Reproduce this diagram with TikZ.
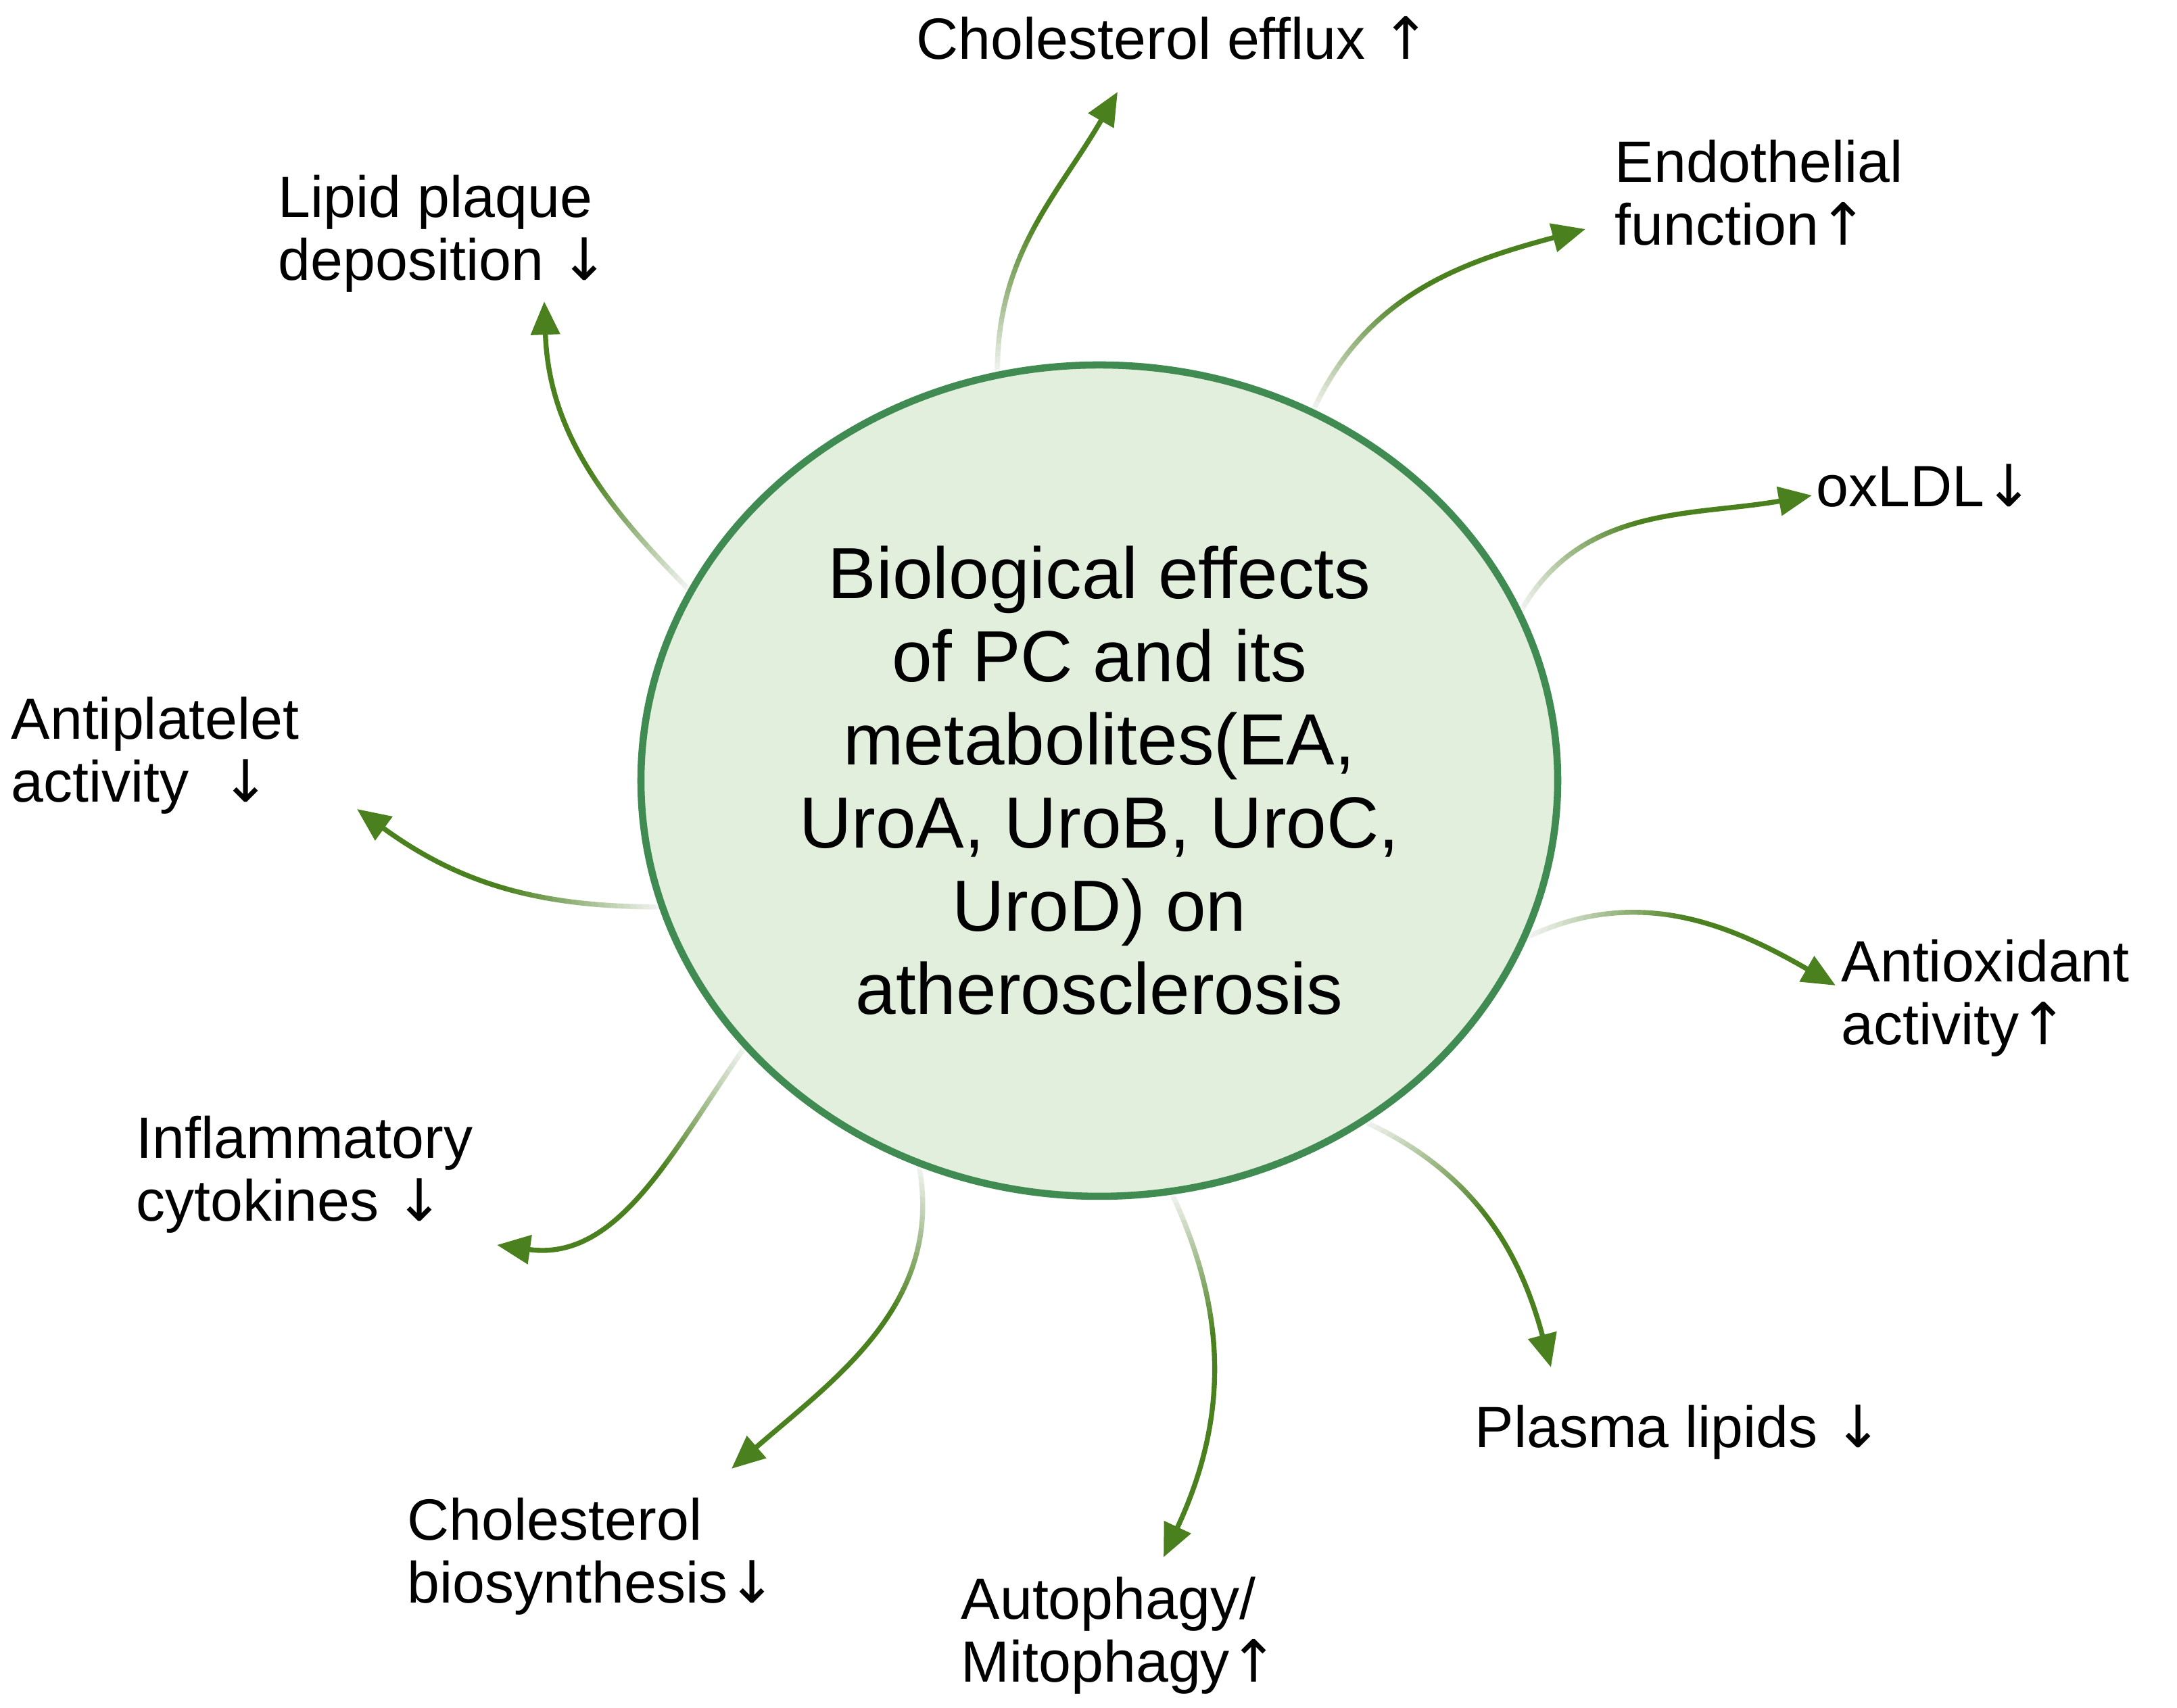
\documentclass[tikz,border=0pt]{standalone}
\usepackage{fontspec}
\setmainfont{Liberation Sans}
\newfontfamily\arrowfont{DejaVu Sans}
\usetikzlibrary{shapes.geometric, arrows.meta}

\definecolor{rimgreen}{HTML}{3F8B52}
\definecolor{coregreen}{HTML}{E3EFDD}
\definecolor{arrowgreen}{HTML}{4A801E}

% trend arrows, taller than the ones of Liberation Sans
\newcommand\upar{{\arrowfont ↑}}
\newcommand\downar{{\arrowfont ↓}}

\pgfdeclarelayer{back}
\pgfsetlayers{back,main}

\begin{document}
\begin{tikzpicture}[
  effect/.style={anchor=base west, inner sep=0pt, align=left, font=\fontsize{24.5}{26.5}\selectfont},
  flow/.style={arrowgreen, line width=2.1pt, -{Triangle[length=14pt,width=12pt]}},
]
\useasboundingbox (0,0) rectangle (32.2,25.27);

\node[ellipse, draw=rimgreen, fill=coregreen, line width=3pt, minimum width=13.56cm, minimum height=12.3cm, align=center, font=\fontsize{30.5}{35}\selectfont] (Core) at (16.26,13.72) {Biological effects\\of PC and its\\metabolites(EA,\\UroA, UroB, UroC,\\UroD) on\\atherosclerosis};

% base anchor sits on the last line
\node[effect] (Efflux)       at (13.55,24.39) {Cholesterol efflux \upar};
\node[effect] (Endothelial)  at (23.88,21.64) {Endothelial\\function\upar};
\node[effect] (OxLDL)        at (26.86,17.77) {oxLDL\downar};
\node[effect] (Antioxidant)  at (27.23,9.81)  {Antioxidant\\activity\upar};
\node[effect] (Plasma)       at (21.81,3.85)  {Plasma lipids \downar};
\node[effect] (Autophagy)    at (14.21,0.38)  {Autophagy/\\Mitophagy\upar};
\node[effect] (Biosynthesis) at (6.02,1.55)   {Cholesterol\\biosynthesis\downar};
\node[effect] (Inflammatory) at (2.01,7.20)   {Inflammatory\\cytokines \downar};
\node[effect] (Antiplatelet) at (0.16,13.40)  {Antiplatelet\\activity\ \ \downar};
\node[effect] (Lipid)        at (4.11,21.12)  {Lipid plaque\\deposition \downar};

\coordinate (EffluxTip)       at (16.53,23.91);
\coordinate (EndothelialTip)  at (23.45,21.88);
\coordinate (OxLDLTip)        at (26.80,17.94);
\coordinate (AntioxidantTip)  at (27.15,10.69);
\coordinate (PlasmaTip)       at (22.94,5.04);
\coordinate (AutophagyTip)    at (17.21,2.23);
\coordinate (BiosynthesisTip) at (10.82,3.54);
\coordinate (InflammatoryTip) at (7.35,6.85);
\coordinate (AntiplateletTip) at (5.28,13.30);
\coordinate (LipidTip)        at (8.05,20.81);

\begin{pgfonlayer}{back}
\draw[flow] (Core.104)  to[out=90,in=-120]  (EffluxTip);
\draw[flow] (Core.60)   to[out=65,in=195]   (EndothelialTip);
\draw[flow] (Core.22)   to[out=60,in=190]   (OxLDLTip);
\draw[flow] (Core.-20)  to[out=25,in=150]   (AntioxidantTip);
\draw[flow] (Core.-52)  to[out=-25,in=105]  (PlasmaTip);
\draw[flow] (Core.-80)  to[out=-65,in=65]   (AutophagyTip);
\draw[flow] (Core.-115) to[out=-80,in=41]   (BiosynthesisTip);
\draw[flow] (Core.-143) to[out=-125,in=-8]  (InflammatoryTip);
\draw[flow] (Core.196)  to[out=180,in=-36]  (AntiplateletTip);
\draw[flow] (Core.155)  to[out=135,in=-88]  (LipidTip);

% white halo so the arrows fade in from the ellipse
\foreach \j [evaluate=\j as \op using 1/(\j+0.5)] in {1,...,24}
  \fill[white, fill opacity=\op] (Core.center) ellipse ({6.78+\j*0.09} and {6.15+\j*0.09});
\end{pgfonlayer}

\end{tikzpicture}
\end{document}
